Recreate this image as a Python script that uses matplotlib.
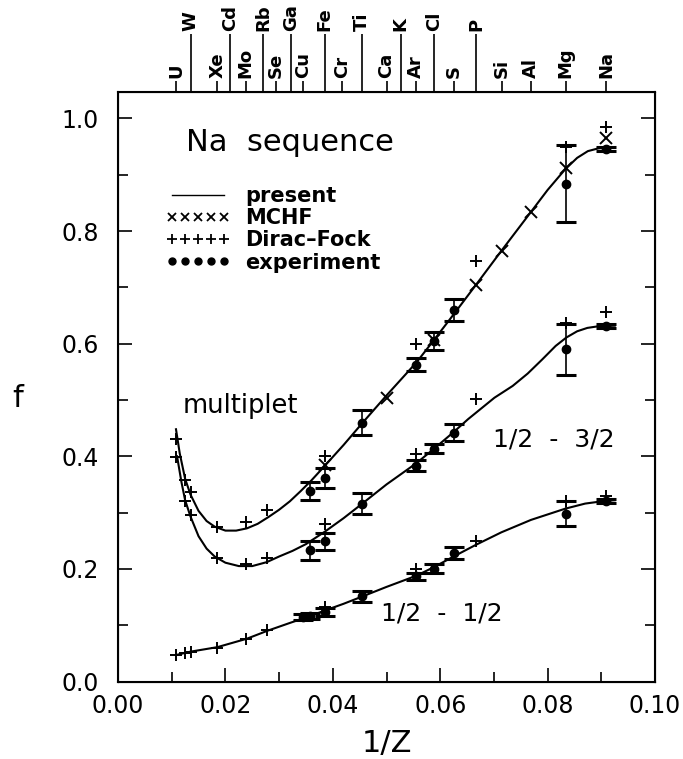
import matplotlib
matplotlib.use("Agg")
import matplotlib.pyplot as plt
from matplotlib.lines import Line2D

# ---------------- data ----------------
# top axis: ion labels at 1/Z
elem_low = ["U", "Xe", "Mo", "Se", "Cu", "Cr", "Ca", "Ar", "S", "Si", "Al", "Mg", "Na"]
z_low = [92, 54, 42, 34, 29, 24, 20, 18, 16, 14, 13, 12, 11]
elem_high = ["W", "Cd", "Rb", "Ga", "Fe", "Ti", "K", "Cl", "P"]
z_high = [74, 48, 37, 31, 26, 22, 19, 17, 15]

# present calculation (curves)
mult_x = [0.0108, 0.0115, 0.0125, 0.0135, 0.015, 0.0165, 0.018, 0.020, 0.022, 0.024,
          0.026, 0.028, 0.030, 0.032, 0.034, 0.036, 0.0385, 0.042, 0.0455, 0.050,
          0.0556, 0.0588, 0.0625, 0.0667, 0.0714, 0.0769, 0.080, 0.0833, 0.0855,
          0.0875, 0.0895, 0.0925]
mult_f = [0.448, 0.405, 0.360, 0.332, 0.303, 0.285, 0.275, 0.268, 0.268, 0.272,
          0.280, 0.292, 0.305, 0.320, 0.338, 0.357, 0.383, 0.420, 0.459, 0.508,
          0.567, 0.606, 0.652, 0.705, 0.765, 0.834, 0.873, 0.910, 0.930,
          0.942, 0.947, 0.949]

c32_x = [0.0110, 0.0118, 0.0125, 0.0135, 0.015, 0.0165, 0.018, 0.020, 0.0225, 0.025,
         0.0277, 0.030, 0.0325, 0.035, 0.0385, 0.042, 0.0455, 0.050, 0.0556, 0.0588,
         0.0625, 0.0652, 0.0701, 0.0735, 0.0763, 0.079, 0.0815, 0.0835, 0.0855,
         0.0874, 0.0895, 0.0925]
c32_f = [0.400, 0.355, 0.322, 0.293, 0.258, 0.236, 0.222, 0.211, 0.205, 0.205,
         0.212, 0.222, 0.232, 0.244, 0.266, 0.290, 0.316, 0.350, 0.388, 0.413,
         0.443, 0.466, 0.504, 0.525, 0.547, 0.572, 0.596, 0.611, 0.622,
         0.628, 0.631, 0.632]

c12_x = [0.0108, 0.0135, 0.0185, 0.024, 0.0278, 0.032, 0.0357, 0.0385, 0.042, 0.0455,
         0.050, 0.0556, 0.0588, 0.0625, 0.0667, 0.0714, 0.0769, 0.0833, 0.087, 0.0909, 0.0925]
c12_f = [0.047, 0.053, 0.061, 0.076, 0.090, 0.104, 0.116, 0.126, 0.138, 0.151,
         0.168, 0.188, 0.203, 0.222, 0.243, 0.265, 0.287, 0.307, 0.316, 0.321, 0.322]

# MCHF (multiplet)
mchf_z = [26, 20, 17, 15, 14, 13, 12, 11]
mchf_mult = [0.385, 0.503, 0.606, 0.705, 0.765, 0.834, 0.912, 0.965]

# Dirac-Fock
df_z = [92, 80, 74, 54, 42, 36, 26, 18, 15, 12, 11]
df_mult = [0.430, 0.358, 0.336, 0.274, 0.283, 0.305, 0.401, 0.599, 0.746, 0.950, 0.985]
df_32 = [0.398, 0.321, 0.295, 0.220, 0.209, 0.220, 0.279, 0.404, 0.501, 0.637, 0.657]
df_12 = [0.047, 0.050, 0.053, 0.059, 0.076, 0.091, 0.132, 0.200, 0.250, 0.320, 0.330]

# experiment
exp_z = [11, 12, 16, 17, 18, 22, 26, 28]
exp_mult = [0.946, 0.884, 0.660, 0.604, 0.563, 0.460, 0.362, 0.339]
err_mult = [0.004, 0.068, 0.019, 0.016, 0.012, 0.022, 0.018, 0.016]
exp_32 = [0.631, 0.590, 0.442, 0.413, 0.383, 0.316, 0.249, 0.233]
err_32 = [0.004, 0.045, 0.015, 0.008, 0.010, 0.019, 0.015, 0.017]
exp_z12 = [11, 12, 16, 17, 18, 22, 26, 28, 29]
exp_12 = [0.321, 0.298, 0.228, 0.200, 0.187, 0.151, 0.124, 0.116, 0.114]
err_12 = [0.004, 0.022, 0.010, 0.008, 0.006, 0.009, 0.007, 0.005, 0.005]

x_ticks = [0.00, 0.02, 0.04, 0.06, 0.08, 0.10]
y_ticks = [0.0, 0.2, 0.4, 0.6, 0.8, 1.0]

# ---------------- figure ----------------
W, H = 683, 759
fig = plt.figure(figsize=(W / 100, H / 100), dpi=100)
L, R, T, B = 118, 655, 92, 681.5
ax = fig.add_axes([L / W, (H - B) / H, (R - L) / W, (B - T) / H])
ax.set_xlim(0, 0.10)
ax.set_ylim(0, 1.047)

k = "black"
ax.plot(mult_x, mult_f, color=k, lw=1.5)
ax.plot(c32_x, c32_f, color=k, lw=1.5)
ax.plot(c12_x, c12_f, color=k, lw=1.5)

inv = lambda zs: [1.0 / z for z in zs]
ax.plot(inv(mchf_z), mchf_mult, ls="none", marker="x", ms=9, mew=1.4, color=k)
for ys in (df_mult, df_32, df_12):
    ax.plot(inv(df_z), ys, ls="none", marker="+", ms=9, mew=1.4, color=k)

eb = dict(fmt="o", ms=6, color=k, ecolor=k, elinewidth=1.2, capsize=7, capthick=2.2)
ax.errorbar(inv(exp_z), exp_mult, yerr=err_mult, **eb)
ax.errorbar(inv(exp_z), exp_32, yerr=err_32, **eb)
ax.errorbar(inv(exp_z12), exp_12, yerr=err_12, **eb)

# axes styling
ax.set_xticks(x_ticks)
ax.set_xticklabels([f"{v:.2f}" for v in x_ticks])
ax.set_xticks([0.01, 0.03, 0.05, 0.07, 0.09], minor=True)
ax.set_yticks(y_ticks)
ax.set_yticklabels([f"{v:.1f}" for v in y_ticks])
ax.set_yticks([0.1, 0.3, 0.5, 0.7, 0.9], minor=True)
ax.tick_params(which="both", direction="in", top=True, right=True, width=1.2,
               labelsize=17)
ax.tick_params(which="major", length=10)
ax.tick_params(which="minor", length=7)
ax.tick_params(axis="x", which="major", pad=9)
ax.tick_params(axis="y", which="major", pad=14)
for s in ax.spines.values():
    s.set_linewidth(1.5)

ax.set_xlabel("1/Z", fontsize=22, labelpad=8)
ax.set_ylabel("f", fontsize=22, rotation=0, va="center", ha="center")
ax.yaxis.set_label_coords(-0.187, 0.48)

# top element axis
ax2 = ax.twiny()
ax2.set_xlim(ax.get_xlim())
ax2.set_xticks(inv(z_low))
ax2.set_xticklabels(elem_low)
ax2.set_xticks(inv(z_high), minor=True)
ax2.set_xticklabels(elem_high, minor=True)
ax2.tick_params(axis="x", which="major", direction="out", length=8, width=1.2,
                pad=2, labelrotation=90, labelsize=13)
ax2.tick_params(axis="x", which="minor", direction="out", length=42, width=1.2,
                pad=2, labelrotation=90, labelsize=13)
for lab in ax2.get_xticklabels(which="both"):
    lab.set_fontweight("bold")

# annotations
ax.text(0.0126, 0.958, "Na  sequence", fontsize=22, ha="left", va="center")
ax.text(0.0120, 0.489, "multiplet", fontsize=18.5, ha="left", va="center")
ax.text(0.0698, 0.429, "1/2  -  3/2", fontsize=18, ha="left", va="center")
ax.text(0.0490, 0.121, "1/2  -  1/2", fontsize=18, ha="left", va="center")

handles = [
    Line2D([], [], color=k, lw=1.0),
    Line2D([], [], ls="none", marker="x", ms=6, mew=1.3, color=k),
    Line2D([], [], ls="none", marker="+", ms=7.5, mew=1.3, color=k),
    Line2D([], [], ls="none", marker="o", ms=5, color=k),
]
labels = ["present", "MCHF", "Dirac\u2013Fock", "experiment"]
ax.legend(handles, labels, loc="upper left", bbox_to_anchor=(0.088, 0.84),
          frameon=False, numpoints=5, handlelength=3.1, handletextpad=0.75,
          labelspacing=0.1, borderpad=0, borderaxespad=0,
          prop={"size": 15, "weight": "bold"})

fig.savefig("out.png", dpi=100)
